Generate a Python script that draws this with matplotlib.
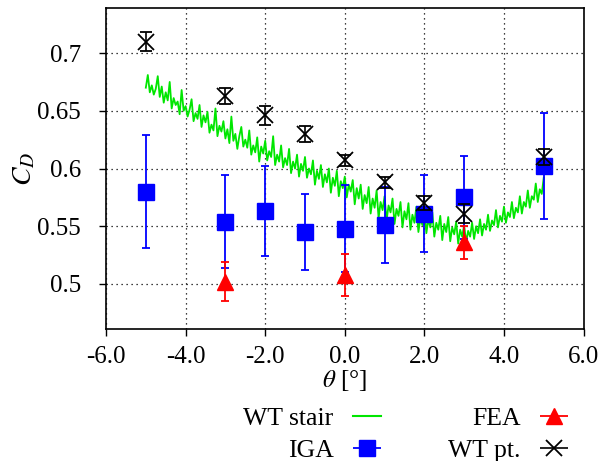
import numpy as np
import matplotlib
matplotlib.use('Agg')
import matplotlib.pyplot as plt
from matplotlib.legend_handler import HandlerErrorbar

plt.rcParams['font.family'] = 'serif'
plt.rcParams['font.serif'] = ['Liberation Serif', 'DejaVu Serif']
plt.rcParams['mathtext.fontset'] = 'stix'

# wind tunnel staircase sweep, 0.05 deg steps from -5 to 5
stair_theta = np.round(np.arange(-5.0, 5.0001, 0.05), 2)
stair_cd = [
    0.670, 0.681, 0.666, 0.672, 0.664, 0.669, 0.680, 0.662, 0.671, 0.657,
    0.666, 0.659, 0.675, 0.652, 0.661, 0.655, 0.658, 0.647, 0.668, 0.650,
    0.654, 0.645, 0.651, 0.660, 0.641, 0.648, 0.643, 0.655, 0.636, 0.646,
    0.640, 0.649, 0.631, 0.638, 0.633, 0.652, 0.628, 0.637, 0.632, 0.641,
    0.626, 0.634, 0.622, 0.645, 0.624, 0.630, 0.617, 0.628, 0.636, 0.619,
    0.625, 0.618, 0.633, 0.612, 0.620, 0.614, 0.627, 0.606, 0.619, 0.613,
    0.624, 0.607, 0.615, 0.610, 0.628, 0.603, 0.612, 0.606, 0.620, 0.601,
    0.609, 0.603, 0.617, 0.596, 0.606, 0.600, 0.612, 0.593, 0.604, 0.598,
    0.610, 0.592, 0.600, 0.595, 0.607, 0.586, 0.598, 0.591, 0.603, 0.584,
    0.595, 0.588, 0.600, 0.579, 0.592, 0.585, 0.598, 0.576, 0.589, 0.583,
    0.593, 0.575, 0.586, 0.580, 0.590, 0.569, 0.583, 0.574, 0.586, 0.565,
    0.577, 0.570, 0.584, 0.561, 0.574, 0.566, 0.581, 0.557, 0.571, 0.564,
    0.576, 0.555, 0.568, 0.562, 0.574, 0.552, 0.565, 0.559, 0.571, 0.549,
    0.563, 0.556, 0.570, 0.547, 0.560, 0.553, 0.567, 0.545, 0.557, 0.551,
    0.566, 0.544, 0.556, 0.549, 0.562, 0.541, 0.553, 0.547, 0.559, 0.538,
    0.552, 0.545, 0.558, 0.537, 0.549, 0.543, 0.554, 0.535, 0.547, 0.541,
    0.551, 0.536, 0.546, 0.541, 0.553, 0.539, 0.550, 0.544, 0.556, 0.542,
    0.552, 0.547, 0.560, 0.546, 0.555, 0.551, 0.564, 0.549, 0.559, 0.554,
    0.567, 0.553, 0.562, 0.558, 0.571, 0.557, 0.566, 0.562, 0.576, 0.561,
    0.571, 0.567, 0.581, 0.566, 0.576, 0.573, 0.587, 0.571, 0.582, 0.578,
    0.592,
]

iga_theta = [-5, -3, -2, -1, 0, 1, 2, 3, 5]
iga_cd = [0.580, 0.554, 0.563, 0.545, 0.548, 0.551, 0.561, 0.575, 0.602]
iga_err = [0.049, 0.040, 0.039, 0.033, 0.038, 0.033, 0.033, 0.036, 0.046]

fea_theta = [-3, 0, 3]
fea_cd = [0.502, 0.508, 0.536]
fea_err = [0.017, 0.018, 0.014]

wt_theta = [-5, -3, -2, -1, 0, 1, 2, 3, 5]
wt_cd = [0.710, 0.663, 0.646, 0.630, 0.607, 0.588, 0.570, 0.561, 0.610]
wt_err = [0.008, 0.007, 0.008, 0.007, 0.005, 0.005, 0.006, 0.008, 0.007]

xticks = [-6, -4, -2, 0, 2, 4, 6]
xtick_labels = ['-6.0', '-4.0', '-2.0', '0.0', '2.0', '4.0', '6.0']
yticks = [0.5, 0.55, 0.6, 0.65, 0.7]
ytick_labels = ['0.5', '0.55', '0.6', '0.65', '0.7']

fs = 18

fig = plt.figure(figsize=(5.98, 4.61), dpi=100)
ax = fig.add_axes([0.1773, 0.2863, 0.7985, 0.6963])

green = '#00e600'
ax.plot(stair_theta, stair_cd, color=green, lw=1.3, zorder=2)
ax.errorbar(iga_theta, iga_cd, yerr=iga_err, fmt='s', color='blue', ms=12,
            elinewidth=1.3, capsize=3, capthick=1.3, zorder=3)
ax.errorbar(fea_theta, fea_cd, yerr=fea_err, fmt='^', color='red', ms=12,
            elinewidth=1.3, capsize=3, capthick=1.3, zorder=4)
ax.errorbar(wt_theta, wt_cd, yerr=wt_err, fmt='x', color='black', ms=12,
            mew=1.3, elinewidth=1.2, capsize=4.5, capthick=1.2, zorder=5)

# legend entries with horizontal bars
h_stair, = ax.plot([], [], color=green, lw=1.5)
h_iga = ax.errorbar([], [], xerr=[], fmt='s', color='blue', ms=12,
                    elinewidth=1.3, capsize=3, capthick=1.3)
h_fea = ax.errorbar([], [], xerr=[], fmt='^', color='red', ms=12,
                    elinewidth=1.3, capsize=3, capthick=1.3)
h_wt = ax.errorbar([], [], xerr=[], fmt='x', color='black', ms=12,
                   mew=1.3, elinewidth=1.2, capsize=4.5, capthick=1.2)

ax.set_xlim(-6, 6)
ax.set_ylim(0.461, 0.739)
ax.set_xticks(xticks)
ax.set_xticklabels(xtick_labels)
ax.set_yticks(yticks)
ax.set_yticklabels(ytick_labels)
ax.tick_params(direction='out', length=5, width=1, labelsize=fs,
               top=False, right=False)
ax.tick_params(axis='y', pad=13)
ax.tick_params(axis='x', pad=7)
ax.grid(True, color='black', linestyle=(0, (1, 3)), linewidth=0.9)
for s in ax.spines.values():
    s.set_linewidth(1.2)

ax.set_xlabel(r'$\theta$ [°]', fontsize=fs, labelpad=0)
ax.set_ylabel(r'$C_D$', fontsize=20, labelpad=0)

fig.legend([h_stair, h_iga, h_fea, h_wt], ['WT stair', 'IGA', 'FEA', 'WT pt.'],
           ncol=2, markerfirst=False, frameon=False, fontsize=18.5,
           handlelength=1.1, handletextpad=0.75, columnspacing=2.6,
           labelspacing=0.35, borderpad=0.0, borderaxespad=0.0,
           handler_map={type(h_iga): HandlerErrorbar(xerr_size=0.55)},
           loc='upper right', bbox_to_anchor=(568 / 598, 1 - 407 / 461))

fig.savefig('out.png', dpi=100)
